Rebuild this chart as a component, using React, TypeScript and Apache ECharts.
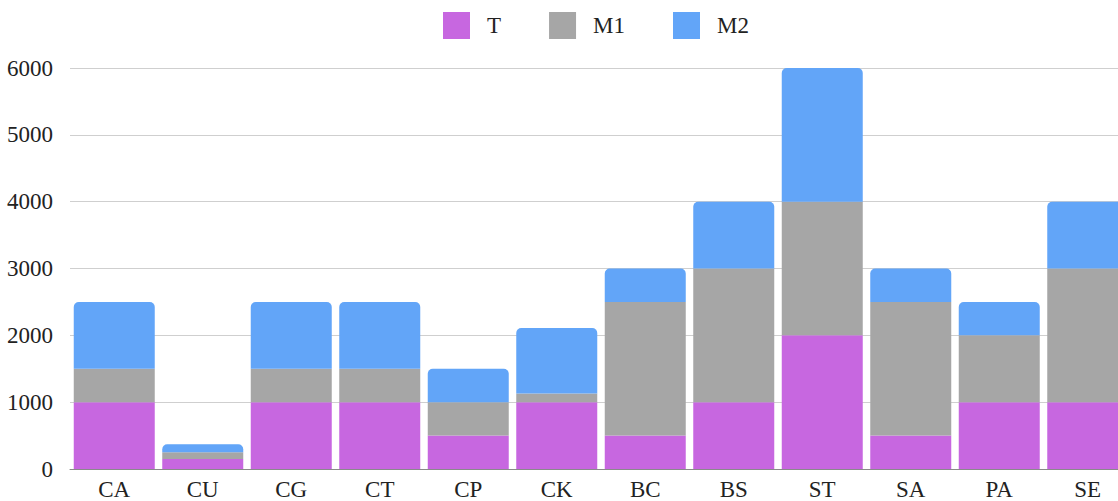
import React, { useEffect, useRef } from "react";
import * as echarts from "echarts";

// Stacked totals per site
const categories = ["CA", "CU", "CG", "CT", "CP", "CK", "BC", "BS", "ST", "SA", "PA", "SE"];
const tValues = [1000, 150, 1000, 1000, 500, 1000, 500, 1000, 2000, 500, 1000, 1000];
const m1Values = [500, 100, 500, 500, 500, 130, 2000, 2000, 2000, 2000, 1000, 2000];
const m2Values = [1000, 120, 1000, 1000, 500, 980, 500, 1000, 2000, 500, 500, 1000];
const seriesNames = ["T", "M1", "M2"];
const colors = ["#c767e0", "#a6a6a6", "#62a5f8"];

const FONT = "'Liberation Serif', 'DejaVu Serif', serif";

export default function App() {
  const ref = useRef<HTMLDivElement>(null);

  useEffect(() => {
    if (!ref.current) return;
    const chart = echarts.init(ref.current, null, { renderer: "svg" });
    const data = [tValues, m1Values, m2Values];
    chart.setOption({
      animation: false,
      color: colors,
      legend: {
        left: 443,
        top: 12,
        padding: 0,
        icon: "rect",
        itemWidth: 27,
        itemHeight: 27,
        itemGap: 48,
        textStyle: {
          fontSize: 23,
          fontFamily: FONT,
          color: "#222",
          padding: [0, 0, 0, 12],
        },
        data: seriesNames,
      },
      grid: { left: 70, top: 68, right: 0, height: 401 },
      xAxis: {
        type: "category",
        data: categories,
        axisTick: { show: false },
        axisLine: { lineStyle: { color: "#8a8a8a", width: 1 } },
        axisLabel: {
          fontSize: 23,
          fontFamily: FONT,
          color: "#222",
          margin: 9,
        },
      },
      yAxis: {
        type: "value",
        min: 0,
        max: 6000,
        interval: 1000,
        axisLine: { show: false },
        axisTick: { show: false },
        splitLine: { lineStyle: { color: "#cfcfcf", width: 1 } },
        axisLabel: {
          fontSize: 23,
          fontFamily: FONT,
          color: "#222",
          margin: 17,
          formatter: (v: number) => String(v),
        },
      },
      series: seriesNames.map((name, i) => ({
        name,
        type: "bar",
        stack: "total",
        barWidth: 81,
        data: data[i],
        itemStyle: {
          color: colors[i],
          borderRadius: i === 2 ? [5, 5, 0, 0] : 0,
        },
      })),
    });
    return () => chart.dispose();
  }, []);

  // The chart is wider than the visible frame; the last column is cut at the right edge.
  return (
    <div style={{ position: "absolute", left: 0, top: 0, width: 1118, height: 501, overflow: "hidden", background: "#fff" }}>
      <div ref={ref} style={{ width: 1132, height: 501 }} />
    </div>
  );
}
